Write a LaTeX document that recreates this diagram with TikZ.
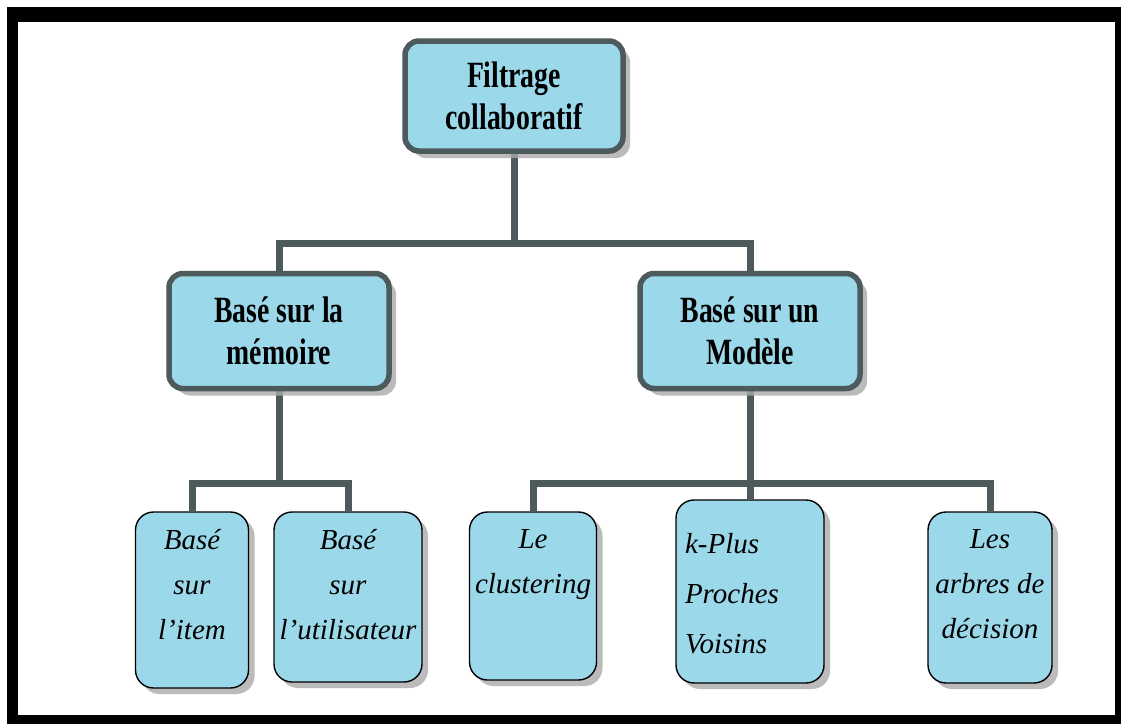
\documentclass[tikz,border=0pt]{standalone}
\usepackage{fontspec}
\setmainfont{Liberation Serif}
\newfontfamily\headfont[FakeStretch=0.75]{Liberation Serif}
\usetikzlibrary{shadows,backgrounds}

\definecolor{boxfill}{RGB}{155,217,234}
\definecolor{linkcol}{RGB}{76,90,92}
\definecolor{shadowgray}{RGB}{170,170,170}

% top-aligned text block inside a leaf box: width, height, alignment, first-line drop, text
\newcommand\leafpar[5]{\parbox[c][#2][t]{#1}{#3\vspace*{#4}#5}}

\begin{document}
\begin{tikzpicture}[x=1pt,y=-1pt,
  headbox/.style={draw=linkcol, line width=5.5pt, fill=boxfill,
    rounded corners=14pt, align=center, inner sep=0pt,
    font=\headfont\bfseries\fontsize{37}{42}\selectfont,
    drop shadow={shadow xshift=7pt, shadow yshift=-7pt, fill=shadowgray, opacity=0.8}},
  leafbox/.style={draw=black, line width=1.4pt, fill=boxfill,
    rounded corners=18pt, inner sep=0pt,
    font=\itshape\fontsize{29}{45}\selectfont,
    drop shadow={shadow xshift=6pt, shadow yshift=-6pt, fill=shadowgray, opacity=0.8}},
  link/.style={draw=linkcol, line width=7pt}
]
\useasboundingbox (0,0) rectangle (1121,724);

% upper levels
\node[headbox, minimum width=218pt, minimum height=110pt] (root) at (514,96) {Filtrage\\collaboratif};
\node[headbox, minimum width=220pt, minimum height=115pt] (mem) at (279,331) {Basé sur la\\mémoire};
\node[headbox, minimum width=220pt, minimum height=115pt] (mod) at (750,331) {Basé sur un\\Modèle};

% leaves
\node[leafbox] (item) at (192,600)
  {\leafpar{113pt}{176pt}{\centering}{17pt}{Basé\\sur\\l’item}};
\node[leafbox] (util) at (348,597)
  {\leafpar{148pt}{170pt}{\centering}{17pt}{Basé\\sur\\l’utilisateur}};
\node[leafbox] (clust) at (533,596)
  {\leafpar{127pt}{168pt}{\centering}{17pt}{Le\\clustering}};
\node[leafbox] (kplus) at (750,591.5)
  {\leafpar{148pt}{183pt}{\raggedright\leftskip=9pt\fontsize{29}{50}\selectfont}{33pt}{k-Plus\\Proches\\Voisins}};
\node[leafbox] (arbres) at (990,597.5)
  {\leafpar{124pt}{171pt}{\centering}{17pt}{Les\\arbres de\\décision}};

% junction points of the tree
\coordinate (j0) at (514,243);
\coordinate (j1) at (279,483);
\coordinate (j2) at (750,483);

\begin{pgfonlayer}{background}
% thick black frame
\fill[black] (7,7) rectangle (1121,724);
\fill[white] (18,22) rectangle (1115,715);
% connectors, kept behind the boxes
\draw[link] (root.south) -- (j0);
\draw[link] (mem.north) |- (j0) -| (mod.north);
\draw[link] (mem.south) -- (j1);
\draw[link] (item.north) |- (j1) -| (util.north);
\draw[link] (mod.south) -- (j2);
\draw[link] (clust.north) |- (j2) -| (arbres.north);
\draw[link] (j2) -- (kplus.north);
\end{pgfonlayer}
\end{tikzpicture}
\end{document}
